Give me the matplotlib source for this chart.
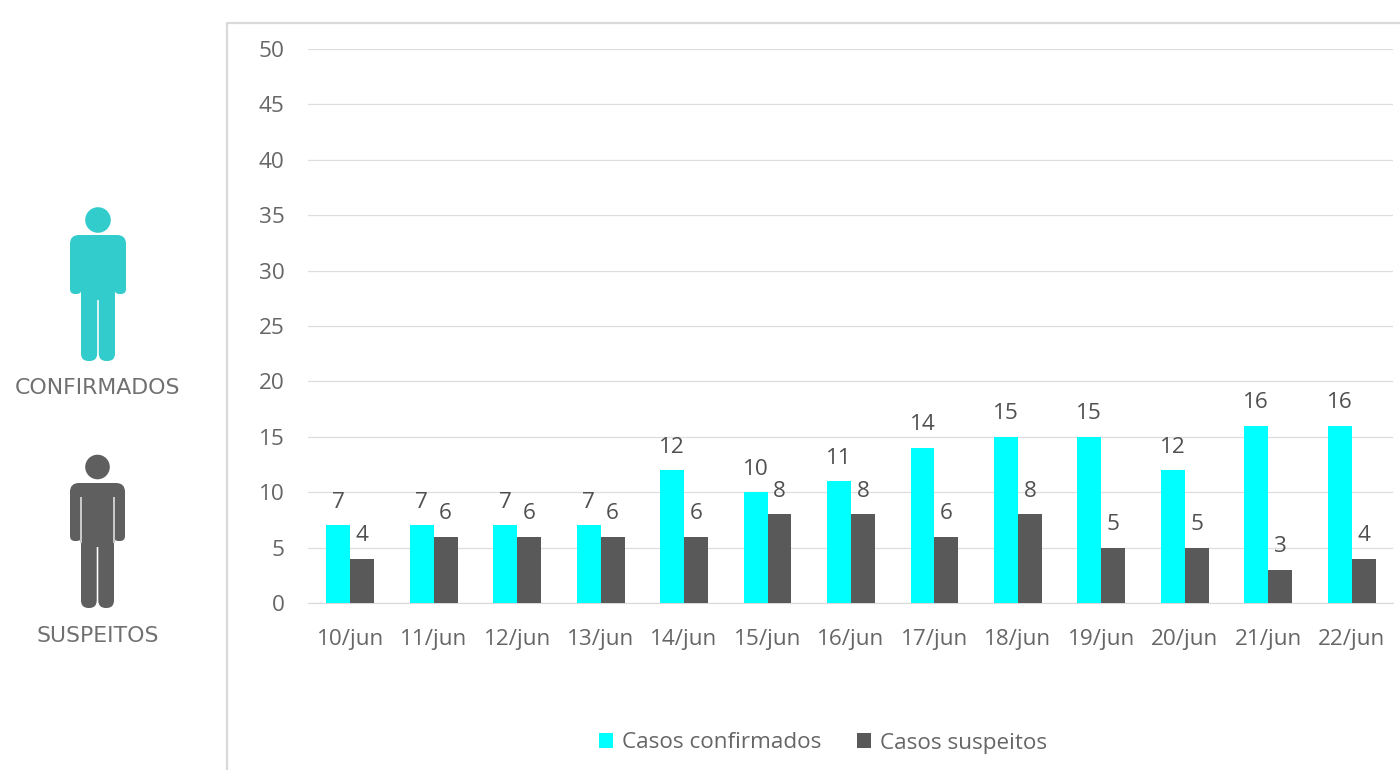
import matplotlib
matplotlib.use("Agg")
import matplotlib.pyplot as plt
from matplotlib.patches import Circle, FancyBboxPatch, Rectangle
from matplotlib.lines import Line2D
import numpy as np

categories = ["10/jun", "11/jun", "12/jun", "13/jun", "14/jun", "15/jun", "16/jun",
              "17/jun", "18/jun", "19/jun", "20/jun", "21/jun", "22/jun"]
confirmados = [7, 7, 7, 7, 12, 10, 11, 14, 15, 15, 12, 16, 16]
suspeitos = [4, 6, 6, 6, 6, 8, 8, 6, 8, 5, 5, 3, 4]
y_ticks = [0, 5, 10, 15, 20, 25, 30, 35, 40, 45, 50]

CYAN = "#00FFFF"
DARK = "#595959"
TXT = "#666666"
FONT = "Open Sans"
FS = 16.2
W, H = 1400, 770

fig = plt.figure(figsize=(W / 100, H / 100), dpi=100, facecolor="white")

# pixel-space overlay for frame and pictograms
ov = fig.add_axes([0, 0, 1, 1])
ov.set_xlim(0, W)
ov.set_ylim(H, 0)
ov.axis("off")


def rbox(x0, y0, x1, y1, r, c):
    ov.add_patch(FancyBboxPatch((x0 + r, y0 + r), x1 - x0 - 2 * r, y1 - y0 - 2 * r,
                                boxstyle=f"round,pad={r},rounding_size={r}",
                                fc=c, ec="none"))


ov.add_line(Line2D([227, 227, 1400], [770, 23, 23], color="#d9d9d9", lw=1.6))


def person(cy, r, left, right, top, arm_bot, leg_l, leg_r, bot, c):
    mid = (leg_l + leg_r) / 2
    ov.add_patch(Circle(((left + right) / 2, cy), r, fc=c, ec="none"))
    rbox(left, top, right, top + 35, 9, c)
    rbox(left, top + 5, leg_l + 0.5, arm_bot, 5, c)
    rbox(leg_r - 0.5, top + 5, right, arm_bot, 5, c)
    ov.add_patch(Rectangle((leg_l, top + 3), leg_r - leg_l, arm_bot + 3 - top, fc=c, ec="none"))
    rbox(leg_l, arm_bot - 10, mid - 0.8, bot, 7.5, c)
    rbox(mid + 0.8, arm_bot - 10, leg_r, bot, 7.5, c)
    ov.add_patch(Rectangle((leg_l, arm_bot - 10), leg_r - leg_l, 13, fc=c, ec="none"))


person(220, 12.8, 70, 126, 235, 294, 81, 115, 361, "#33CCCC")
person(467, 12.3, 70, 125, 483, 541, 81, 114, 608, "#5F5F5F")
for sx in (80.3, 113.3):
    ov.add_patch(Rectangle((sx, 497), 1.3, 46, fc="#c8c8c8", ec="none"))

ov.text(97.5, 388, "CONFIRMADOS", ha="center", va="center", family="DejaVu Sans",
        fontsize=15.8, color="#707070")
ov.text(97.5, 635.5, "SUSPEITOS", ha="center", va="center", family="DejaVu Sans",
        fontsize=15.8, color="#707070")

# chart
x0, x1, ytop, ybot = 308, 1393, 49, 603
ax = fig.add_axes([x0 / W, 1 - ybot / H, (x1 - x0) / W, (ybot - ytop) / H])
ax.patch.set_alpha(0)
x = np.arange(len(categories))
bw = 0.287
ax.bar(x - bw / 2, confirmados, bw, color=CYAN, zorder=3, label="Casos confirmados")
ax.bar(x + bw / 2, suspeitos, bw, color=DARK, zorder=3, label="Casos suspeitos")
ax.set_xlim(-0.506, len(categories) - 0.506)
ax.set_ylim(0, 50)
ax.set_yticks(y_ticks)
ax.set_xticks(x)
ax.set_xticklabels(categories)
ax.grid(axis="y", color="#dedede", lw=0.9, zorder=0)
ax.set_axisbelow(True)
for s in ("top", "left", "right"):
    ax.spines[s].set_visible(False)
ax.spines["bottom"].set_color("#d9d9d9")
ax.tick_params(axis="both", length=0, labelsize=FS, labelcolor=TXT)
ax.tick_params(axis="x", pad=18.5)
ax.tick_params(axis="y", pad=17)
for lab in ax.get_xticklabels() + ax.get_yticklabels():
    lab.set_family(FONT)

for i, (a, b) in enumerate(zip(confirmados, suspeitos)):
    ax.annotate(str(a), (i - bw / 2, a), xytext=(0, 9), textcoords="offset points",
                ha="center", va="bottom", fontsize=FS, color="#505050", family=FONT)
    ax.annotate(str(b), (i + bw / 2, b), xytext=(0, 9), textcoords="offset points",
                ha="center", va="bottom", fontsize=FS, color="#505050", family=FONT)

fig.legend(*ax.get_legend_handles_labels(), loc="center", bbox_to_anchor=(823 / W, 1 - 743 / H),
           ncol=2, frameon=False, handlelength=0.62, handleheight=0.62, handletextpad=0.4,
           columnspacing=1.55, prop={"family": FONT, "size": FS}, labelcolor=TXT)

fig.savefig("out.png", dpi=100)
